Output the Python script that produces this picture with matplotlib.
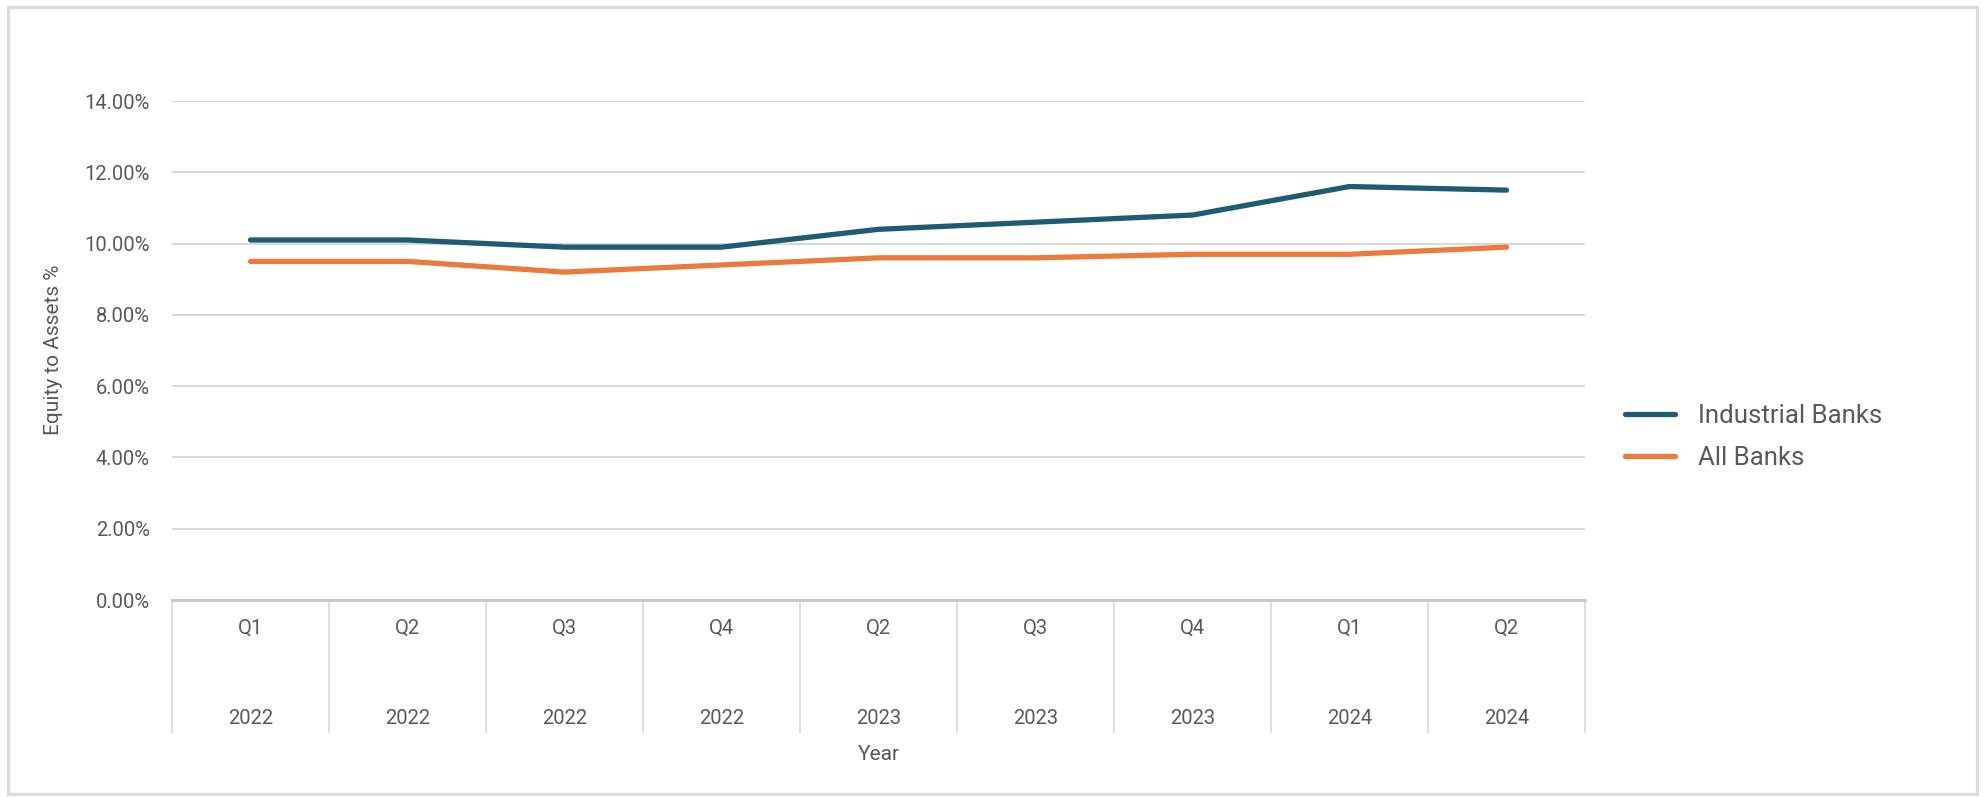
import numpy as np
import matplotlib.pyplot as plt
from matplotlib.patches import Rectangle
from matplotlib.ticker import FuncFormatter

quarters = ["Q1", "Q2", "Q3", "Q4", "Q2", "Q3", "Q4", "Q1", "Q2"]
years = ["2022", "2022", "2022", "2022", "2023", "2023", "2023", "2024", "2024"]
industrial_banks = [10.1, 10.1, 9.9, 9.9, 10.4, 10.6, 10.8, 11.6, 11.5]
all_banks = [9.5, 9.5, 9.2, 9.4, 9.6, 9.6, 9.7, 9.7, 9.9]
yticks = [0, 2, 4, 6, 8, 10, 12, 14]

TEAL = "#1f5b72"
ORANGE = "#eb7a3c"
GRID = "#d9d9d9"
TXT = "#595959"

plt.rcParams['font.family'] = ['Roboto', 'DejaVu Sans']

W, H = 1986, 797
fig = plt.figure(figsize=(W / 100, H / 100), dpi=100)

# outer frame
fig.patches.append(Rectangle((8 / W, 3 / H), 1969 / W, 787 / H, transform=fig.transFigure,
                             fill=False, edgecolor="#dcdcdc", linewidth=2.4))

ax_l, ax_r, ax_t, ax_b = 172, 1585, 101, 600
ax = fig.add_axes([ax_l / W, (H - ax_b) / H, (ax_r - ax_l) / W, (ax_b - ax_t) / H])
ax_h = ax_b - ax_t

x = np.arange(len(quarters))
ax.plot(x, industrial_banks, color=TEAL, linewidth=3.8, label="Industrial Banks",
        solid_capstyle='round', solid_joinstyle='round')
ax.plot(x, all_banks, color=ORANGE, linewidth=3.8, label="All Banks",
        solid_capstyle='round', solid_joinstyle='round')

ax.set_xlim(-0.5, len(quarters) - 0.5)
ax.set_ylim(0, 14)
ax.set_yticks(yticks)
ax.yaxis.set_major_formatter(FuncFormatter(lambda v, p: f"{v:.2f}%"))
ax.tick_params(axis='y', length=0, pad=16, labelsize=14.5, labelcolor=TXT)
ax.grid(axis='y', color=GRID, linewidth=1.5)
ax.set_axisbelow(True)
for s in ["top", "right", "left"]:
    ax.spines[s].set_visible(False)
ax.spines["bottom"].set_color("#c8c8c8")
ax.spines["bottom"].set_linewidth(2)

# two-level category axis
ax.set_xticks([])
xt = ax.get_xaxis_transform()
ax.vlines(np.arange(len(quarters) + 1) - 0.5, -133 / ax_h, 0, transform=xt,
          color=GRID, linewidth=1.2, clip_on=False)
for i, (q, yr) in enumerate(zip(quarters, years)):
    ax.text(i, -28 / ax_h, q, transform=xt, ha='center', va='center',
            fontsize=14.5, color=TXT)
    ax.text(i, -118 / ax_h, yr, transform=xt, ha='center', va='center',
            fontsize=14.5, color=TXT)
ax.text(0.5, -154 / ax_h, "Year", transform=ax.transAxes, ha='center', va='center',
        fontsize=15, color=TXT)

fig.text(54 / W, (H - 350) / H, "Equity to Assets %", rotation=90, ha='center',
         va='center', fontsize=15, color=TXT)

fig.legend(loc='center left', bbox_to_anchor=(1625 / W, (H - 437) / H),
           frameon=False, fontsize=18.5, labelcolor=TXT, handlelength=1.95,
           handletextpad=0.9, borderpad=0, borderaxespad=0, labelspacing=0.72)

fig.savefig("out.png", dpi=100, facecolor="white")
